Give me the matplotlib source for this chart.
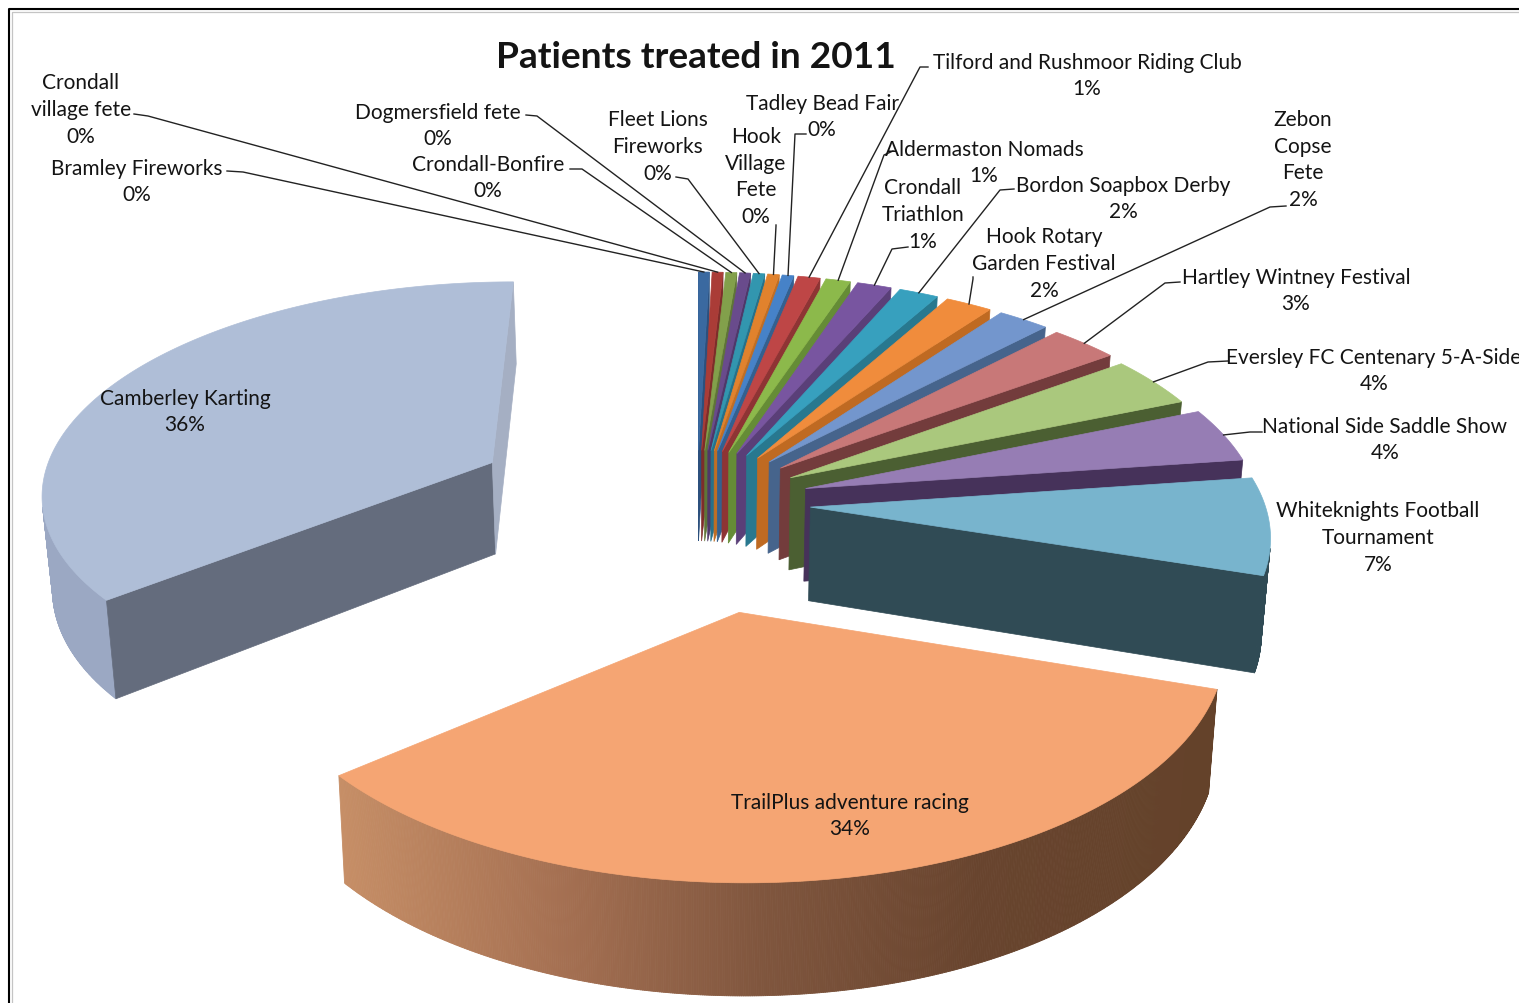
import numpy as np
import matplotlib
matplotlib.use("Agg")
import matplotlib.pyplot as plt
from matplotlib.patches import Polygon
from matplotlib.collections import PolyCollection

plt.rcParams["font.family"] = ["Lato", "DejaVu Sans"]

# DATA ---------------------------------------------------------------------
names = ["Bramley Fireworks", "Crondall\nvillage fete", "Crondall-Bonfire",
         "Dogmersfield fete", "Fleet Lions\nFireworks", "Hook\nVillage\nFete",
         "Tadley Bead Fair", "Tilford and Rushmoor Riding Club",
         "Aldermaston Nomads", "Crondall\nTriathlon", "Bordon Soapbox Derby",
         "Hook Rotary\nGarden Festival", "Zebon\nCopse\nFete",
         "Hartley Wintney Festival", "Eversley FC Centenary 5-A-Side",
         "National Side Saddle Show", "Whiteknights Football\nTournament",
         "TrailPlus adventure racing", "Camberley Karting"]
shares = [0.44, 0.44, 0.44, 0.44, 0.46, 0.47, 0.47, 0.9, 1.0, 1.4, 1.6, 1.9,
          2.1, 2.8, 3.8, 4.1, 7.3, 34.0, 35.95]
percent_labels = ["0%", "0%", "0%", "0%", "0%", "0%", "0%", "1%", "1%", "1%",
                  "2%", "2%", "2%", "3%", "4%", "4%", "7%", "34%", "36%"]

# STYLE --------------------------------------------------------------------
top_colors = ["#3a69a0", "#aa3c37", "#82a04b", "#694b8c", "#3296af", "#e1822d",
              "#4682c8", "#be4646", "#8cb94b", "#7855a0", "#37a0be", "#f08c3c",
              "#7396cd", "#c87878", "#aac87d", "#967db4", "#78b4cd", "#f5a573",
              "#afbed7"]
wall_colors = ["#2c507d", "#7d2d2a", "#5f7537", "#4f3869", "#26718a", "#c06e24",
               "#34608f", "#8e3434", "#658c36", "#5a3f78", "#28788f", "#bf6a22",
               "#46648c", "#733c3c", "#4b5f32", "#46325a", "#304b55", "#64412a",
               "#646c7d"]
explode = [0.255] * 13 + [0.25, 0.24, 0.25, 0.25, 0.5, 0.5]
explode_turn = [0.0] * 17 + [0.5, -2.5]  # degrees off the slice's middle
label_xy = [(137, 182), (81, 110), (488, 178), (438, 126), (658, 147), (756, 177),
            (822, 117), (1087, 76), (984, 163), (923, 215), (1123, 199),
            (1044, 264), (1303, 160), (1296, 291), (1374, 371), (1385, 440),
            (1378, 538), (850, 816), (185, 412)]
# leader start next to the label, then its elbow (None = no leader)
leader_xy = [[(227, 172), (243, 173)], [(134, 115), (148, 117)],
             [(570, 170), (582, 170)], [(526, 116), (537, 117)],
             [(676, 178), (688, 180)], [(776, 226), (776, 227)],
             [(806, 135), (795, 135)], [(928, 68), (920, 68)],
             [(893, 152), (884, 156)], [(908, 248), (892, 250)],
             [(1014, 190), (1000, 191)], [(973, 278), (973, 280)],
             [(1286, 207), (1270, 208)], [(1180, 283), (1165, 284)],
             [(1228, 362), (1208, 363)], [(1262, 433), (1250, 433)],
             None, None, None]

# perspective of the pie plane, fitted to the picture
XC, VY, DY, RX, T0, H, BOTTOM_X = 697.0, -1300.0, 15450.0, 3890.0, 8.567, 800.0, 0.984


def project(p, q):
    t = T0 - np.asarray(q, dtype=float)
    return XC + RX * np.asarray(p, dtype=float) / t, VY + DY / t


def drop(x, y):
    t = DY / (np.asarray(y) - VY)
    return XC + (np.asarray(x) - XC) * BOTTOM_X, np.asarray(y) + H / t


def signed_area(pts):
    x, y = np.asarray(pts).T
    return 0.5 * np.sum(x * np.roll(y, -1) - np.roll(x, -1) * y)


fig = plt.figure(figsize=(15.19, 10.04), dpi=100)
ax = fig.add_axes([0, 0, 1, 1])
ax.set_xlim(0, 1519)
ax.set_ylim(1004, 0)
ax.axis("off")

edges = np.cumsum([0.0] + shares) / np.sum(shares) * 2 * np.pi
mids = (edges[:-1] + edges[1:]) / 2
push = mids + np.radians(explode_turn)
off_ps = np.array(explode) * np.sin(push)
off_qs = -np.array(explode) * np.cos(push)

for i in range(len(shares)):
    off_p, off_q = off_ps[i], off_qs[i]
    n = max(3, int((edges[i + 1] - edges[i]) / 0.004))
    th = np.linspace(edges[i], edges[i + 1], n)
    rx, ry = project(off_p + np.sin(th), off_q - np.cos(th))
    ax_, ay_ = project(off_p, off_q)
    rbx, rby = drop(rx, ry)
    abx, aby = drop(ax_, ay_)

    # outer wall, one quad per arc step
    quads, cols = [], []
    for j in range(n - 1):
        quad = [(rx[j], ry[j]), (rx[j + 1], ry[j + 1]),
                (rbx[j + 1], rby[j + 1]), (rbx[j], rby[j])]
        if signed_area(quad) > 0:
            continue
        quads.append(quad)
        if i == 17:  # orange slice fades from tan to dark brown
            xm = (rx[j] + rx[j + 1]) / 2
            cols.append([np.interp(xm, [340, 560, 760, 980, 1215], c) / 255 for c in
                         ([198, 165, 128, 104, 100], [142, 112, 86, 68, 66], [102, 82, 62, 46, 42])])
        elif i == 18:
            cols.append("#9ba8c3")
        else:
            cols.append(wall_colors[i])
    if quads:
        ax.add_collection(PolyCollection(quads, facecolors=cols, edgecolors=cols, linewidths=0.6))

    # flat walls along the two straight edges, only if they face the viewer
    start_wall = [(ax_, ay_), (rx[0], ry[0]), (rbx[0], rby[0]), (abx, aby)]
    end_wall = [(ax_, ay_), (rx[-1], ry[-1]), (rbx[-1], rby[-1]), (abx, aby)]
    if signed_area(start_wall) < 0:
        ax.add_patch(Polygon(start_wall, fc=wall_colors[i], ec=wall_colors[i], lw=0.5))
    if signed_area(end_wall) > 0:
        c = "#a5afc3" if i == 18 else wall_colors[i]
        ax.add_patch(Polygon(end_wall, fc=c, ec=c, lw=0.5))

    top = [(ax_, ay_)] + list(zip(rx, ry))
    ax.add_patch(Polygon(top, fc=top_colors[i], ec=top_colors[i], lw=0.5))

# labels and leader lines
for i, name in enumerate(names):
    x, y = label_xy[i]
    ax.text(x, y, name + "\n" + percent_labels[i], ha="center", va="center",
            fontsize=15, color="#141414", linespacing=1.43)
    if leader_xy[i] is not None:
        ex, ey = project(off_ps[i] + np.sin(mids[i]), off_qs[i] - np.cos(mids[i]))
        xs = [leader_xy[i][0][0], leader_xy[i][1][0], ex]
        ys = [leader_xy[i][0][1], leader_xy[i][1][1], ey]
        ax.plot(xs, ys, color="#222222", lw=1.0)

ax.text(696, 58, "Patients treated in 2011", ha="center", va="center",
        fontsize=26.7, fontweight="bold", color="#141414")

# picture frame, with its faint grey shadow
ax.plot([11.5, 11.5, 1519], [1004, 12.5, 12.5], color="#c4c4c4", lw=0.9)
ax.plot([9, 9, 1519], [1004, 10, 10], color="black", lw=1.5)

fig.savefig("out.png", dpi=100)
